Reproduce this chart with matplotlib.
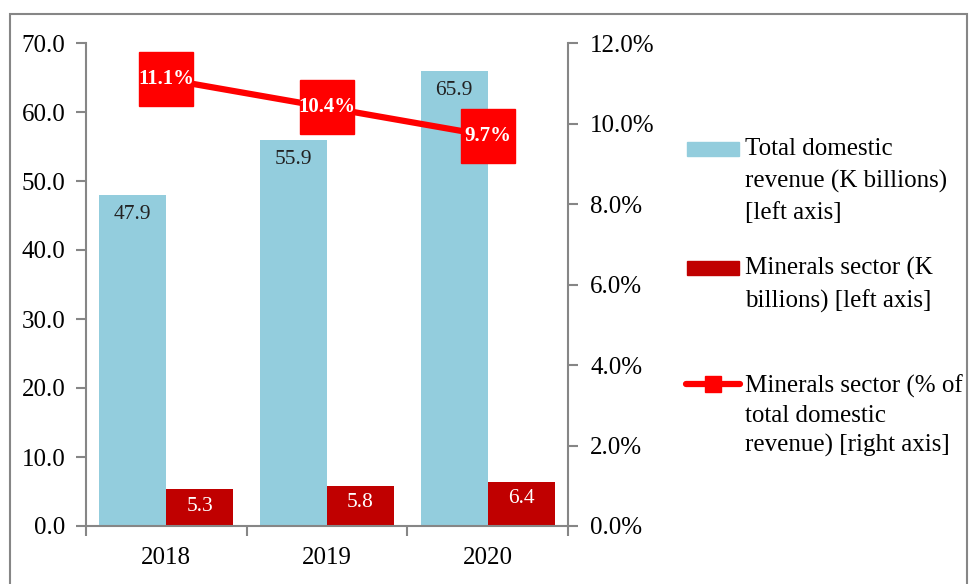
import matplotlib
matplotlib.use("Agg")
import matplotlib.pyplot as plt
from matplotlib.patches import Rectangle
from matplotlib.lines import Line2D
import numpy as np

years = ["2018", "2019", "2020"]
total_revenue = [47.9, 55.9, 65.9]
minerals_revenue = [5.3, 5.8, 6.4]
minerals_share = [11.1, 10.4, 9.7]
left_ticks = [0, 10, 20, 30, 40, 50, 60, 70]
right_ticks = [0, 2, 4, 6, 8, 10, 12]

plt.rcParams['font.family'] = ['Liberation Serif', 'DejaVu Serif']

W, H = 971, 584
fig = plt.figure(figsize=(W / 100, H / 100), dpi=100)
ax = fig.add_axes([86 / W, 1 - 526 / H, (568 - 86) / W, (526 - 43) / H])
ax2 = ax.twinx()

BLUE = "#93CDDD"
DRED = "#C00000"
RED = "#FF0000"
GREY = "#868686"

x = np.arange(len(years))
bw = 0.417
ax.bar(x - bw / 2, total_revenue, bw, color=BLUE, zorder=2)
ax.bar(x + bw / 2, minerals_revenue, bw, color=DRED, zorder=2)

for xi, v in zip(x - bw / 2, total_revenue):
    ax.annotate(f"{v:.1f}", (xi, v), xytext=(0, -14), textcoords="offset points",
                ha="center", va="center", fontsize=15.5, color="#222222")
for xi, v in zip(x + bw / 2, minerals_revenue):
    ax.annotate(f"{v:.1f}", (xi, v), xytext=(0, -12), textcoords="offset points",
                ha="center", va="center", fontsize=15.5, color="white")

ax.set_ylim(0, 70)
ax.set_yticks(left_ticks)
ax.set_yticklabels([f"{t:.1f}" for t in left_ticks])
ax.set_xlim(-0.5, 2.5)
ax.set_xticks([-0.5, 0.5, 1.5, 2.5])
ax.set_xticklabels([])
ax.set_xticks(x, minor=True)
ax.set_xticklabels(years, minor=True)
ax.tick_params(axis="x", which="major", length=7, width=1.5, color=GREY, direction="out")
ax.tick_params(axis="x", which="minor", length=0, pad=15, labelsize=18)
ax.tick_params(axis="y", length=7, width=1.5, color=GREY, pad=8, labelsize=18)

ax2.set_ylim(0, 12)
ax2.set_yticks(right_ticks)
ax2.set_yticklabels([f"{t:.1f}%" for t in right_ticks])
ax2.tick_params(axis="y", length=7, width=1.5, color=GREY, pad=9, labelsize=18)

ax2.plot(x, minerals_share, color=RED, lw=4.5, marker="s", markersize=39,
         markerfacecolor=RED, markeredgecolor=RED, zorder=3)
for xi, v in zip(x, minerals_share):
    ax2.text(xi, v, f"{v:.1f}%", ha="center", va="center", color="white",
             fontsize=15, fontweight="bold", zorder=4)

for a in (ax, ax2):
    a.spines["top"].set_visible(False)
    for s in ("left", "right", "bottom"):
        a.spines[s].set_color(GREY)
        a.spines[s].set_linewidth(1.5)
    a.patch.set_visible(False)
ax.spines["right"].set_visible(False)
ax2.spines["left"].set_visible(False)
ax2.spines["bottom"].set_visible(False)

# outer border
fig.patches.append(Rectangle((10 / W, -0.05), (967 - 10) / W, 1.05 - 14 / H,
                             transform=fig.transFigure, fill=False,
                             edgecolor=GREY, linewidth=1.5))

def fx(px):
    return px / W

def fy(py):
    return 1 - py / H

lfs = 18
fig.patches.append(Rectangle((fx(687), fy(156)), 52 / W, 14 / H,
                             transform=fig.transFigure, color=BLUE))
fig.text(fx(745), fy(138), "Total domestic\nrevenue (K billions)\n[left axis]",
         ha="left", va="top", fontsize=lfs, linespacing=1.55,
         transform=fig.transFigure)
fig.patches.append(Rectangle((fx(687), fy(275)), 52 / W, 14 / H,
                             transform=fig.transFigure, color=DRED))
fig.text(fx(745), fy(257), "Minerals sector (K\nbillions) [left axis]",
         ha="left", va="top", fontsize=lfs, linespacing=1.55,
         transform=fig.transFigure)
fig.lines.append(Line2D([fx(686), fx(740)], [fy(384), fy(384)], color=RED, lw=4.5,
                        transform=fig.transFigure, solid_capstyle="round"))
fig.lines.append(Line2D([fx(713)], [fy(384)], color=RED, marker="s", markersize=12,
                        transform=fig.transFigure))
fig.text(fx(745), fy(375), "Minerals sector (% of\ntotal domestic\nrevenue) [right axis]",
         ha="left", va="top", fontsize=lfs, linespacing=1.4,
         transform=fig.transFigure)

fig.savefig("out.png", dpi=100)
